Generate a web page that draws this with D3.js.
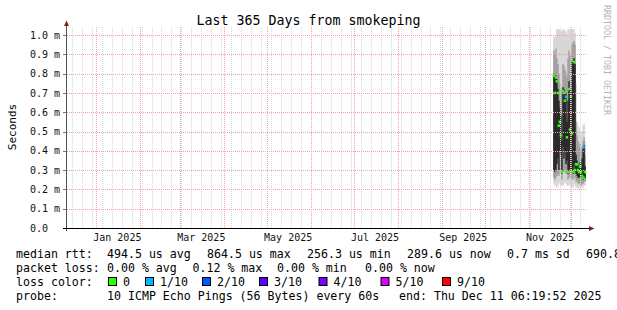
<!DOCTYPE html>
<html>
<head>
<meta charset="utf-8">
<script src="https://cdn.jsdelivr.net/npm/d3@7"></script>
<style>
  html, body { margin: 0; padding: 0; background: #fff; }
  svg { display: block; font-family: "DejaVu Sans Mono", monospace; }
</style>
</head>
<body>
<div id="app"></div>
<script>
// graph period
const periodStart = new Date(2024, 11, 11, 6, 19, 52);
const periodEnd = new Date(2025, 11, 11, 6, 19, 52);

// samples (one consolidated row every 17 h from here)
const sampleStart = new Date(2025, 10, 18, 6, 0, 0);
const sampleHours = 17;

// smoke, in ms: outer band, middle band, dark core, median
const pingMax = [0.99, 0.99, 1.00, 1.03, 1.03, 1.03, 1.03, 1.02, 1.02, 1.03, 1.03, 1.02, 1.02, 1.00, 1.03, 1.03,
                 1.03, 1.03, 1.02, 1.03, 1.03, 1.01, 0.75, 0.55, 0.53, 0.50, 0.52, 0.48, 0.50, 0.53, 0.54, 0.45];
const pingHi2 = [0.92, 0.90, 0.93, 0.88, 0.85, 0.80, 0.75, 0.72, 0.70, 0.85, 0.84, 0.82, 0.80, 0.78, 0.88, 0.92,
                 0.90, 0.90, 0.95, 0.96, 0.97, 0.95, 0.55, 0.48, 0.45, 0.42, 0.44, 0.40, 0.42, 0.45, 0.47, 0.38];
const pingHi1 = [0.80, 0.78, 0.79, 0.77, 0.72, 0.66, 0.62, 0.58, 0.45, 0.73, 0.72, 0.70, 0.70, 0.55, 0.66, 0.76,
                 0.72, 0.70, 0.86, 0.86, 0.88, 0.85, 0.38, 0.35, 0.33, 0.31, 0.34, 0.31, 0.36, 0.41, 0.43, 0.32];
const pingLo1 = [0.30, 0.29, 0.30, 0.33, 0.36, 0.30, 0.40, 0.38, 0.28, 0.42, 0.36, 0.40, 0.33, 0.35, 0.28, 0.30,
                 0.30, 0.29, 0.30, 0.28, 0.32, 0.29, 0.28, 0.27, 0.26, 0.26, 0.27, 0.26, 0.26, 0.25, 0.27, 0.26];
const pingLo2 = [0.26, 0.25, 0.26, 0.27, 0.28, 0.27, 0.30, 0.29, 0.25, 0.30, 0.29, 0.30, 0.28, 0.28, 0.25, 0.26,
                 0.27, 0.25, 0.26, 0.25, 0.28, 0.26, 0.24, 0.24, 0.23, 0.23, 0.23, 0.22, 0.23, 0.23, 0.24, 0.24];
const pingMin = [0.23, 0.22, 0.22, 0.21, 0.22, 0.24, 0.23, 0.22, 0.22, 0.22, 0.23, 0.24, 0.23, 0.22, 0.22, 0.22,
                 0.23, 0.21, 0.22, 0.21, 0.23, 0.22, 0.21, 0.21, 0.20, 0.21, 0.21, 0.20, 0.21, 0.21, 0.22, 0.22];
const medians = [0.79, 0.70, 0.78, 0.76, 0.70, 0.53, 0.55, 0.48, 0.29, 0.71, 0.70, 0.66, 0.68, 0.47, 0.29, 0.72,
                 0.51, 0.68, 0.49, 0.29, 0.86, 0.30, 0.33, 0.33, 0.30, 0.29, 0.32, 0.29, 0.27, 0.26, 0.42, 0.29];
const lossCounts = [0, 0, 0, 0, 0, 0, 0, 0, 0, 0, 0, 0, 1, 0, 0, 0,
                    0, 0, 0, 0, 0, 0, 0, 0, 0, 0, 0, 0, 0, 0, 1, 0];

// axis
const yTicks = [0, 0.1, 0.2, 0.3, 0.4, 0.5, 0.6, 0.7, 0.8, 0.9, 1.0];

// legend
const lossLabels = ["0", "1/10", "2/10", "3/10", "4/10", "5/10", "9/10"];
const lossColors = ["#26ff00", "#00b8ff", "#0059ff", "#5e00ff", "#7e00ff", "#dd00ff", "#ff0000"];
const legendRtt = ["median rtt:", "494.5 us avg", "864.5 us max", "256.3 us min", "289.6 us now", "0.7 ms sd", "690.8 am/s"];
const legendLoss = ["packet loss:", "0.00 % avg", "0.12 % max", "0.00 % min", "0.00 % now"];
const legendProbe = ["probe:", "10 ICMP Echo Pings (56 Bytes) every 60s", "end: Thu Dec 11 06:19:52 2025"];

const W = 617, H = 310;
const svg = d3.select("#app").append("svg").attr("width", W).attr("height", H);

const x = d3.scaleTime().domain([periodStart, periodEnd]).range([66.5, 586]);
const y = d3.scaleLinear().domain([0, 1]).range([228, 35]);
const plotTop = 27;

const samples = medians.map((m, i) => ({
  t: d3.timeHour.offset(sampleStart, i * sampleHours),
  max: pingMax[i], hi2: pingHi2[i], hi1: pingHi1[i],
  lo1: pingLo1[i], lo2: pingLo2[i], min: pingMin[i],
  median: m, loss: lossCounts[i]
}));

const lossColor = n => lossColors[Math.min(n, 5)] || lossColors[6];
const colW = d => x(d3.timeHour.offset(d.t, sampleHours)) - x(d.t) + 0.3;

// smoke
const smoke = svg.append("g");
[["min", "max", "#d2d2d2"], ["lo2", "hi2", "#9a9a9a"], ["lo1", "hi1", "#1c1c1c"]].forEach(([lo, hi, c]) => {
  smoke.selectAll(null)
    .data(samples)
    .enter()
    .append("rect")
    .attr("x", d => x(d.t))
    .attr("width", colW)
    .attr("y", d => y(d[hi]))
    .attr("height", d => y(d[lo]) - y(d[hi]))
    .attr("fill", c);
});

// median marks
svg.append("g")
  .selectAll("rect")
  .data(samples)
  .enter()
  .append("rect")
  .attr("x", d => x(d.t) - 0.7)
  .attr("width", 2.5)
  .attr("y", d => y(d.median) - 1.3)
  .attr("height", 2.6)
  .attr("fill", d => lossColor(d.loss));

// grid (drawn over the data, like rrdtool)
const grid = svg.append("g").attr("stroke-dasharray", "1,1").attr("stroke-width", 1);
const weeks = d3.timeSunday.range(periodStart, periodEnd);
const months = d3.timeMonth.range(periodStart, periodEnd);
grid.selectAll(".minor")
  .data(weeks.filter(w => w.getDate() !== 1))
  .enter()
  .append("line")
  .attr("x1", d => Math.round(x(d)) + 0.5)
  .attr("x2", d => Math.round(x(d)) + 0.5)
  .attr("y1", y(0))
  .attr("y2", plotTop)
  .attr("stroke", "#d8d8d8");
grid.selectAll(".major")
  .data(months)
  .enter()
  .append("line")
  .attr("x1", d => Math.round(x(d)) + 0.5)
  .attr("x2", d => Math.round(x(d)) + 0.5)
  .attr("y1", y(0))
  .attr("y2", plotTop)
  .attr("stroke", "#f2a6a6");
grid.selectAll(".hgrid")
  .data(yTicks.slice(1))
  .enter()
  .append("line")
  .attr("x1", 67)
  .attr("x2", 586)
  .attr("y1", d => Math.round(y(d)) + 0.5)
  .attr("y2", d => Math.round(y(d)) + 0.5)
  .attr("stroke", "#eaa4a4");

// axes
svg.selectAll(".ytick")
  .data(yTicks)
  .enter()
  .append("line")
  .attr("x1", 63)
  .attr("x2", 67)
  .attr("y1", d => Math.round(y(d)) + 0.5)
  .attr("y2", d => Math.round(y(d)) + 0.5)
  .attr("stroke", "#777");

svg.append("line")
  .attr("x1", 66.5).attr("x2", 66.5)
  .attr("y1", y(0) + 3).attr("y2", 24)
  .attr("stroke", "#555");
svg.append("line")
  .attr("x1", 63).attr("x2", 590)
  .attr("y1", 228.5).attr("y2", 228.5)
  .attr("stroke", "#000");
svg.append("path").attr("d", "M64,26 L69,26 L66.5,20.5 Z").attr("fill", "#8b1c1c");
svg.append("path").attr("d", "M589,226 L589,231 L594.5,228.5 Z").attr("fill", "#8b1c1c");

svg.selectAll(".ylab")
  .data(yTicks)
  .enter()
  .append("text")
  .attr("x", 30)
  .attr("y", d => y(d))
  .attr("dy", "0.36em")
  .attr("font-size", "10px")
  .attr("fill", "#111")
  .text(d => d === 0 ? "0.0" : d.toFixed(1) + " m");

// month labels every 2 months, centred half a month after the line
svg.selectAll(".xlab")
  .data(d3.timeMonth.every(2).range(periodStart, periodEnd))
  .enter()
  .append("text")
  .attr("x", d => x(d3.timeDay.offset(d, 15)))
  .attr("y", 241)
  .attr("text-anchor", "middle")
  .attr("font-size", "10px")
  .attr("fill", "#111")
  .text(d => d3.timeFormat("%b %Y")(d));

// title and side texts
svg.append("text")
  .attr("x", 308.5).attr("y", 24.5)
  .attr("text-anchor", "middle")
  .attr("font-size", "13.3px")
  .text("Last 365 Days from smokeping");

svg.append("text")
  .attr("transform", "translate(15.5,127) rotate(-90)")
  .attr("text-anchor", "middle")
  .attr("font-size", "11px")
  .text("Seconds");

svg.append("text")
  .attr("transform", "translate(604,5) rotate(90)")
  .attr("font-size", "8.3px")
  .attr("fill", "#b4b4b4")
  .text("RRDTOOL / TOBI OETIKER");

// legend
const legend = svg.append("g").attr("font-size", "11.6px").attr("fill", "#000");
const putLine = (parts, xs, yy) => {
  legend.selectAll(null)
    .data(parts)
    .enter()
    .append("text")
    .attr("x", (d, i) => xs[i])
    .attr("y", yy)
    .text(d => d);
};
putLine(legendRtt, [16, 107, 207, 307, 407, 507, 586], 257.5);
putLine(legendLoss, [16, 107, 192.5, 277, 365], 271.7);
putLine(["loss color:"], [16], 286);
putLine(legendProbe, [16, 107, 399], 300.2);

const boxX = [108.5, 145.5, 202.5, 259.5, 319, 381, 442.5];
const items = legend.selectAll(".loss")
  .data(lossLabels)
  .enter()
  .append("g");
items.append("rect")
  .attr("x", (d, i) => boxX[i])
  .attr("y", 277.5)
  .attr("width", 8)
  .attr("height", 8)
  .attr("fill", (d, i) => lossColors[i])
  .attr("stroke", "#000")
  .attr("stroke-width", 1);
items.append("text")
  .attr("x", (d, i) => boxX[i] + 14.5)
  .attr("y", 286)
  .text(d => d);
</script>
</body>
</html>
